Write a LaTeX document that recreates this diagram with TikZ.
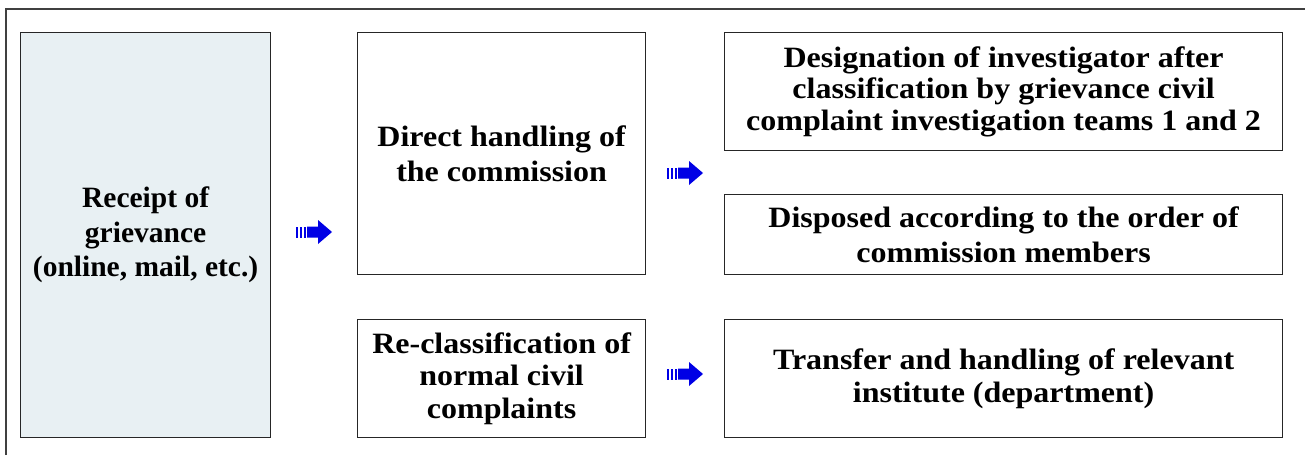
\documentclass[tikz,border=0pt]{standalone}
\usepackage{fontspec}
\setmainfont{Liberation Serif}
\newfontfamily\widefont[FakeStretch=1.085]{Liberation Serif}
\definecolor{recfill}{RGB}{232,240,243}
\begin{document}
\begin{tikzpicture}[x=1pt,y=-1pt,
  box/.style={draw=black!85, line width=1.2pt, align=center, anchor=north west,
    inner sep=0pt, font=\widefont\bfseries\fontsize{29.5}{31}\selectfont},
  ls/.style={font=\widefont\bfseries\fontsize{29.5}{#1}\selectfont},
  barrow/.style={fill=blue!90!black}
]
\useasboundingbox (0,0) rectangle (1305,455);
\draw[line width=2.2pt, black!75] (6,455) -- (6,9) -- (1305,9);
\node[box, fill=recfill, minimum width=250pt, minimum height=405pt,
  font=\bfseries\fontsize{29.5}{34.5}\selectfont] (rec) at (20,32)
  {Receipt of\\grievance\\(online, mail, etc.)};
\node[box, ls=34.5, minimum width=288pt, minimum height=242pt] (dir) at (357,32)
  {Direct handling of\\the commission};
\node[box, ls=32.5, minimum width=288pt, minimum height=118pt] (recl) at (357,319)
  {Re-classification of\\normal civil\\complaints};
\node[box, ls=31.5, minimum width=558pt, minimum height=118pt] (des) at (724,32)
  {Designation of investigator after\\classification by grievance civil\\complaint investigation teams 1 and 2};
\node[box, ls=34.5, minimum width=558pt, minimum height=80pt] (dis) at (724,194)
  {Disposed according to the order of\\commission members};
\node[box, ls=32.5, minimum width=558pt, minimum height=118pt] (tra) at (724,319)
  {Transfer and handling of relevant\\institute (department)};
\newcommand{\bluearrow}[2]{%
  \begin{scope}[shift={(#1,#2)}]
    \fill[barrow] (0,-5.5) rectangle (2,5.5);
    \fill[barrow] (4,-5.5) rectangle (6,5.5);
    \fill[barrow] (8,-5.5) rectangle (9.5,5.5);
    \fill[barrow] (11,-5.5) -- (22,-5.5) -- (22,-12) -- (36,0) -- (22,12) -- (22,5.5) -- (11,5.5) -- cycle;
  \end{scope}}
\bluearrow{296}{232}
\bluearrow{667}{173}
\bluearrow{667}{374}
\end{tikzpicture}
\end{document}
